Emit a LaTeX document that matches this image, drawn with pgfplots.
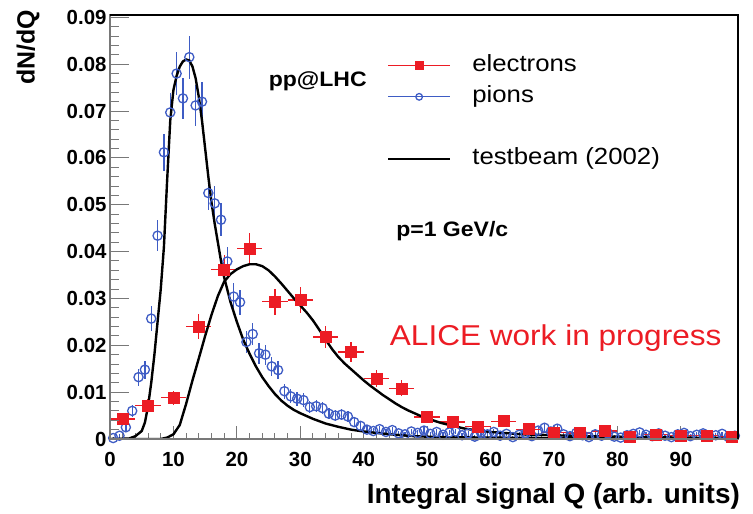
\documentclass[border=0pt]{standalone}
\usepackage{fontspec}
\setmainfont{Liberation Sans}
\newfontfamily\widefont[FakeStretch=1.1]{Liberation Sans}
\usepackage{pgfplots}
\pgfplotsset{compat=1.18}
\usepackage{pgfplotstable}

\definecolor{elecred}{RGB}{236,28,36}
\definecolor{pionblue}{RGB}{62,92,196}
\definecolor{axisgray}{RGB}{120,120,120}

% electron signal spectrum, 4-unit bins: centre, value, half width, error
\pgfplotstableread{
x  y       ex  ey
2  0.0043  2   0.0011
6  0.0072  2   0.0014
10 0.0088  2   0.0015
14 0.0240  2   0.0026
18 0.0362  2   0.0031
22 0.0407  2   0.0033
26 0.0293  2   0.0028
30 0.0297  2   0.0028
34 0.0218  2   0.0024
38 0.0186  2   0.0022
42 0.0129  2   0.0019
46 0.0108  2   0.0017
50 0.0047  2   0.0011
54 0.0036  2   0.0010
58 0.0026  2   0.0008
62 0.0038  2   0.0010
66 0.0021  2   0.0008
70 0.0014  2   0.0006
74 0.0013  2   0.0006
78 0.0017  2   0.0007
82 0.0005  2   0.0004
86 0.0010  2   0.0005
90 0.0007  2   0.0004
94 0.0007  2   0.0004
98 0.0004  2   0.0003
}\electrons

% pion signal spectrum, 1-unit bins: centre, value, error
\pgfplotstableread{
x     y       ey
0.5   0.0002  0.0002
1.5   0.0007  0.0004
2.5   0.0025  0.0008
3.5   0.0060  0.0012
4.5   0.0132  0.0018
5.5   0.0148  0.0019
6.5   0.0257  0.0026
7.5   0.0434  0.0033
8.5   0.0612  0.0040
9.5   0.0697  0.0042
10.5  0.0780  0.0045
11.5  0.0727  0.0043
12.5  0.0815  0.0046
13.5  0.0712  0.0043
14.5  0.0720  0.0043
15.5  0.0525  0.0037
16.5  0.0503  0.0036
17.5  0.0468  0.0035
18.5  0.0379  0.0031
19.5  0.0304  0.0028
20.5  0.0292  0.0027
21.5  0.0207  0.0023
22.5  0.0224  0.0024
23.5  0.0183  0.0022
24.5  0.0180  0.0021
25.5  0.0155  0.0020
26.5  0.0147  0.0019
27.5  0.0102  0.0016
28.5  0.0091  0.0015
29.5  0.0086  0.0015
30.5  0.0083  0.0015
31.5  0.0068  0.0013
32.5  0.0070  0.0013
33.5  0.0066  0.0013
34.5  0.0054  0.0012
35.5  0.0050  0.0011
36.5  0.0052  0.0012
37.5  0.0048  0.0011
38.5  0.0036  0.0010
39.5  0.0028  0.0008
40.5  0.0020  0.0007
41.5  0.0017  0.0007
42.5  0.0021  0.0007
43.5  0.0015  0.0006
44.5  0.0019  0.0007
45.5  0.0012  0.0006
46.5  0.0010  0.0005
47.5  0.0016  0.0006
48.5  0.0013  0.0006
49.5  0.0018  0.0007
50.5  0.0011  0.0005
51.5  0.0015  0.0006
52.5  0.0009  0.0005
53.5  0.0014  0.0006
54.5  0.0016  0.0006
55.5  0.0008  0.0005
56.5  0.0012  0.0006
57.5  0.0005  0.0004
58.5  0.0013  0.0006
59.5  0.0010  0.0005
60.5  0.0015  0.0006
61.5  0.0007  0.0004
62.5  0.0011  0.0005
63.5  0.0004  0.0003
64.5  0.0009  0.0005
65.5  0.0012  0.0006
66.5  0.0006  0.0004
67.5  0.0018  0.0007
68.5  0.0024  0.0008
69.5  0.0016  0.0006
70.5  0.0022  0.0007
71.5  0.0010  0.0005
72.5  0.0006  0.0004
73.5  0.0013  0.0006
74.5  0.0008  0.0005
75.5  0.0004  0.0003
76.5  0.0010  0.0005
77.5  0.0007  0.0004
78.5  0.0012  0.0006
79.5  0.0005  0.0004
80.5  0.0003  0.0003
81.5  0.0008  0.0005
82.5  0.0011  0.0005
83.5  0.0014  0.0006
84.5  0.0009  0.0005
85.5  0.0006  0.0004
86.5  0.0012  0.0006
87.5  0.0007  0.0004
88.5  0.0004  0.0003
89.5  0.0010  0.0005
90.5  0.0013  0.0006
91.5  0.0006  0.0004
92.5  0.0009  0.0005
93.5  0.0012  0.0006
94.5  0.0005  0.0004
95.5  0.0008  0.0005
96.5  0.0011  0.0005
97.5  0.0004  0.0003
98.5  0.0007  0.0004
}\pions

% 2002 test-beam reference shape, pions
\pgfplotstableread{
x     y
0     0.0000
3     0.0001
4     0.0006
5     0.0017
5.5   0.0035
6     0.0070
6.5   0.0120
7     0.0180
7.5   0.0250
8     0.0320
8.5   0.0410
9     0.0550
9.5   0.0680
10    0.0745
10.5  0.0775
11    0.0795
11.5  0.0806
12    0.0810
12.5  0.0808
13    0.0795
13.5  0.0770
14    0.0730
14.5  0.0680
15    0.0620
15.5  0.0560
16    0.0505
16.5  0.0460
17    0.0420
17.5  0.0380
18    0.0345
19    0.0292
20    0.0250
21    0.0212
22    0.0182
23    0.0155
24    0.0132
25    0.0113
26    0.0096
27    0.0082
28    0.0071
29    0.0062
30    0.0055
32    0.0043
34    0.0033
36    0.0026
38    0.0020
40    0.0016
42    0.0013
45    0.0009
48    0.0006
52    0.0004
60    0.0003
70    0.0002
80    0.0001
98    0.0001
}\tbpions

% 2002 test-beam reference shape, electrons
\pgfplotstableread{
x   y
0   0.0000
8   0.0000
9   0.0003
10  0.0010
11  0.0030
12  0.0075
13  0.0125
14  0.0172
15  0.0220
16  0.0265
17  0.0305
18  0.0336
19  0.0352
20  0.0362
21  0.0369
22  0.0373
23  0.0373
24  0.0369
25  0.0360
26  0.0347
27  0.0332
28  0.0316
29  0.0300
30  0.0285
31  0.0270
32  0.0253
33  0.0233
34  0.0212
35  0.0192
36  0.0175
37  0.0161
38  0.0149
39  0.0137
40  0.0125
41  0.0114
42  0.0104
43  0.0094
44  0.0085
45  0.0076
46  0.0068
47  0.0061
48  0.0055
49  0.0049
50  0.0044
52  0.0035
54  0.0028
56  0.0022
58  0.0018
60  0.0015
65  0.0010
70  0.0008
75  0.0006
80  0.0005
85  0.0004
90  0.0003
98  0.0002
}\tbelectrons

\begin{document}
\begin{tikzpicture}
\begin{axis}[
  name=ax,
  scale only axis, width=628bp, height=424bp,
  xmin=0, xmax=99, ymin=0, ymax=0.0905,
  axis line style={axisgray, line width=1.3bp},
  tick align=inside, tick pos=left,
  scaled ticks=false,
  xtick={0,10,20,30,40,50,60,70,80,90},
  xticklabels={0,10,20,30,40,50,60,70,80,90},
  minor x tick num=4,
  ytick=\empty,
  major tick length=12.7bp, minor tick length=6.4bp,
  every tick/.style={axisgray, line width=1bp},
  ticklabel style={font=\bfseries\fontsize{20.5}{24}\selectfont},
  xticklabel style={yshift=-10bp},
  legend style={
    at={(axis cs:43.66,0.0820)}, anchor=north west,
    draw=none, fill=none, inner sep=0pt, outer sep=0pt,
    font=\widefont\fontsize{23.5}{28}\selectfont,
    row sep=9bp,
    nodes={inner sep=0pt, text height=17bp, text depth=5bp},
    /tikz/every odd column/.append style={column sep=21bp},
  },
  legend cell align=left,
  legend image code/.code={
    \draw[mark repeat=2, mark phase=2] plot coordinates {(0bp,0bp) (31bp,0bp) (62bp,0bp)};
  },
]
% measured spectra
\addplot[pionblue, only marks, mark=o, mark size=4.6bp, line width=1.3bp, forget plot,
  error bars/.cd, y dir=both, y explicit,
  error bar style={line width=1.3bp, pionblue}, error mark=none]
  table[x=x, y=y, y error=ey] {\pions};
\addplot[elecred, only marks, mark=square*, mark size=5.5bp, forget plot,
  error bars/.cd, x dir=both, x explicit, y dir=both, y explicit,
  error bar style={line width=1.3bp, elecred}, error mark=none]
  table[x=x, y=y, x error=ex, y error=ey] {\electrons};
% test-beam reference shapes
\addplot[black, line width=2.4bp, forget plot] table[x=x, y=y] {\tbpions};
\addplot[black, line width=2.4bp, forget plot] table[x=x, y=y] {\tbelectrons};

\addlegendimage{elecred, line width=1.3bp, mark=square*, mark size=4bp}
\addlegendentry{electrons}
\addlegendimage{pionblue, line width=1.3bp, mark=o, mark size=3.3bp}
\addlegendentry{pions}
\addlegendimage{empty legend}
\addlegendentry{}
\addlegendimage{black, line width=2.4bp}
\addlegendentry{testbeam (2002)}

\node[anchor=base east, inner sep=0pt, font=\widefont\bfseries\fontsize{21}{24}\selectfont]
  at (axis cs:40.5,0.0753) {pp@LHC};
\node[anchor=base west, inner sep=0pt, font=\widefont\bfseries\fontsize{21}{24}\selectfont]
  at (axis cs:45.1,0.0433) {p=1 GeV/c};
\node[anchor=base west, inner sep=0pt, text=elecred, font=\widefont\fontsize{28.8}{32}\selectfont]
  at (axis cs:44.1,0.0200) {ALICE work in progress};
\end{axis}

% y axis: longer ticks and labels
\begin{axis}[
  at={(ax.south west)}, anchor=south west,
  scale only axis, width=628bp, height=424bp,
  xmin=0, xmax=99, ymin=0, ymax=0.0905,
  axis line style={axisgray, line width=1.3bp},
  tick align=inside, ytick pos=left,
  scaled ticks=false,
  xtick=\empty,
  ytick={0,0.01,0.02,0.03,0.04,0.05,0.06,0.07,0.08,0.09},
  yticklabels={0,0.01,0.02,0.03,0.04,0.05,0.06,0.07,0.08,0.09},
  minor y tick num=4,
  major tick length=19bp, minor tick length=9.5bp,
  every tick/.style={axisgray, line width=1bp},
  ticklabel style={font=\bfseries\fontsize{20.5}{24}\selectfont},
]
\end{axis}

% frame: dark top and right edges
\draw[black, line width=1.5bp] (ax.north west) -- (ax.north east) -- (ax.south east);

% axis titles
\node[anchor=base east, inner sep=0pt, font=\bfseries\fontsize{28}{32}\selectfont]
  at ([shift={(2bp,-64bp)}]ax.south east) {Integral signal Q (arb. units)};
\node[anchor=east, rotate=90, inner sep=0pt, font=\bfseries\fontsize{25}{30}\selectfont]
  at ([shift={(-82bp,5bp)}]ax.north west) {dN/dQ};

% page extent
\path ([shift={(-110bp,-75bp)}]ax.south west) rectangle ([shift={(15bp,15bp)}]ax.north east);
\end{tikzpicture}
\end{document}
